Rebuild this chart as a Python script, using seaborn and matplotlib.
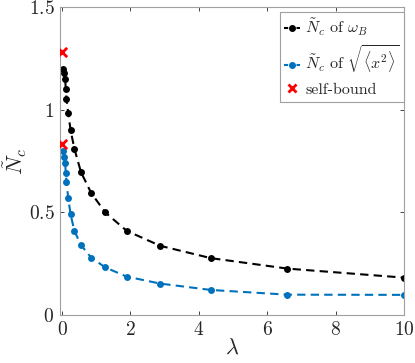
import numpy as np
import pandas as pd
import seaborn as sns
import matplotlib.pyplot as plt
from matplotlib.lines import Line2D

lam = [0.04, 0.06, 0.09, 0.11, 0.13, 0.18, 0.25, 0.36, 0.555, 0.85, 1.26, 1.89, 2.87, 4.35, 6.59, 10]
nc_omega = [1.20, 1.18, 1.15, 1.10, 1.05, 0.985, 0.90, 0.81, 0.695, 0.595, 0.50, 0.41, 0.337, 0.277, 0.226, 0.182]
nc_width = [0.80, 0.77, 0.74, 0.69, 0.65, 0.57, 0.49, 0.41, 0.34, 0.28, 0.232, 0.187, 0.153, 0.122, 0.099, 0.098]
self_bound_x = [0, 0]
self_bound_y = [1.28, 0.833]

xticks = [0, 2, 4, 6, 8, 10]
yticks = [0, 0.5, 1, 1.5]

sns.set_style('ticks')
plt.rcParams['font.family'] = ['cmr10', 'DejaVu Serif']
plt.rcParams['mathtext.fontset'] = 'cm'
plt.rcParams['axes.formatter.use_mathtext'] = True

blue = '#0072BD'
axcol = '#262626'

fig = plt.figure(figsize=(4.15, 3.63), dpi=100)
ax = fig.add_axes([60 / 415, 1 - 315 / 363, 344 / 415, 308 / 363])

df = pd.DataFrame({'lam': lam, 'omega': nc_omega, 'width': nc_width})
sns.lineplot(data=df, x='lam', y='omega', ax=ax, color='black', linestyle='--',
             dashes=False, marker='o', markersize=5, markeredgewidth=0, linewidth=1.5)
sns.lineplot(data=df, x='lam', y='width', ax=ax, color=blue, linestyle='--',
             dashes=False, marker='o', markersize=5, markeredgewidth=0, linewidth=1.5)
for l in ax.lines:
    l.set_dashes((4, 2.5))
sns.scatterplot(x=self_bound_x, y=self_bound_y, ax=ax, marker='x', color='red',
                s=45, linewidth=2, zorder=5)

ax.set_xlim(-0.06, 10)
ax.set_ylim(0, 1.5)
ax.set_xticks(xticks)
ax.set_xticklabels([f'${t}$' for t in xticks])
ax.set_yticks(yticks)
ax.set_yticklabels(['$0$', '$0.5$', '$1$', '$1.5$'])
ax.tick_params(direction='in', length=3, width=0.6, colors=axcol, labelsize=14,
               top=True, right=True, pad=4)
for s in ax.spines.values():
    s.set_visible(True)
    s.set_color('#a0a0a0')
    s.set_linewidth(0.8)

ax.set_xlabel(r'$\lambda$', fontsize=16, color=axcol, labelpad=0)
ax.set_ylabel('')
# place the y label by hand so the tilde is not cut at the figure edge
fig.text(15 / 415, 1 - 161 / 363, r'$\tilde{N}_c$', rotation=90, fontsize=16,
         color=axcol, ha='center', va='center')

handles = [
    Line2D([], [], color='black', linestyle='--', dashes=(2, 1), marker='o', markersize=4, linewidth=1.5),
    Line2D([], [], color=blue, linestyle='--', dashes=(2, 1), marker='o', markersize=4, linewidth=1.5),
    Line2D([], [], color='red', linestyle='none', marker='x', markersize=6, markeredgewidth=2),
]
labels = [r'$\tilde{N}_c$ of $\omega_B$', r'$\tilde{N}_c$ of $\sqrt{\langle x^2\rangle}$', 'self-bound']
leg = ax.legend(handles, labels, loc='upper right', bbox_to_anchor=(1.0, 0.985),
                handlelength=1.0, handletextpad=0.3, borderpad=0.3, labelspacing=0.4,
                fancybox=False, framealpha=1, borderaxespad=0,
                prop={'family': ['cmr10', 'DejaVu Serif'], 'size': 11.5})
leg.get_frame().set_edgecolor('#a0a0a0')
leg.get_frame().set_linewidth(0.8)

fig.savefig('out.png', dpi=100)
